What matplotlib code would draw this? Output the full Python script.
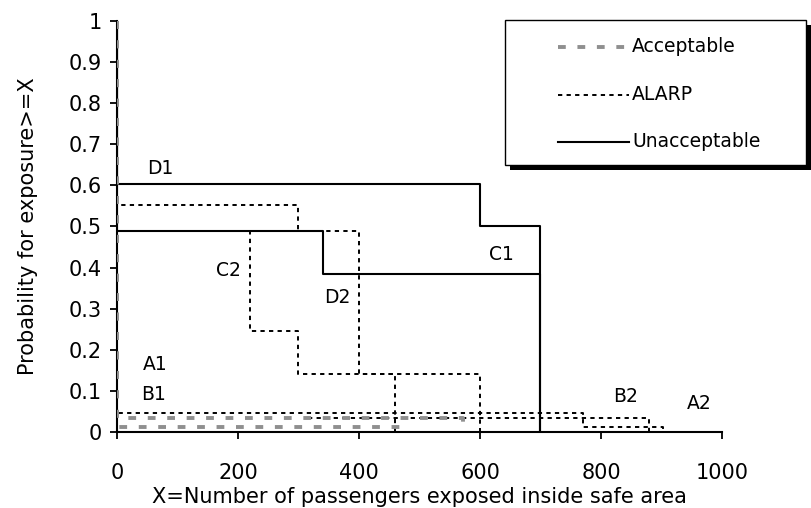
import matplotlib
matplotlib.use("Agg")
import matplotlib.pyplot as plt
from matplotlib.patches import Rectangle
from matplotlib.lines import Line2D

# ---- data (step curves: x breakpoints, probability level after each breakpoint) ----
D1_x = [0, 0, 600, 700]
D1_y = [1.0, 0.603, 0.50, 0.0]
C1_x = [0, 0, 340, 700]
C1_y = [1.0, 0.49, 0.385, 0.0]

D2_x = [0, 0, 300, 400, 600]
D2_y = [1.0, 0.553, 0.49, 0.141, 0.0]
C2_x = [0, 0, 220, 300, 460]
C2_y = [1.0, 0.49, 0.245, 0.141, 0.0]
B1_x = [0, 0, 770, 902]
B1_y = [1.0, 0.047, 0.013, 0.0]
B2_x = [315, 880]
B2_y = [0.035, 0.0]

A1_x = [0, 0, 572]
A1_y = [1.0, 0.035, 0.0]
A2_x = [0, 0, 478]
A2_y = [1.0, 0.013, 0.0]

labels = ["D1", "C1", "C2", "D2", "A1", "B1", "B2", "A2"]
label_x = [71, 636, 185, 364, 64, 60, 840, 963]
label_y = [0.641, 0.431, 0.394, 0.328, 0.165, 0.092, 0.086, 0.070]

xticks = [0, 200, 400, 600, 800, 1000]
yticks = [0, 0.1, 0.2, 0.3, 0.4, 0.5, 0.6, 0.7, 0.8, 0.9, 1]
yticklabels = ["0", "0.1", "0.2", "0.3", "0.4", "0.5", "0.6", "0.7", "0.8", "0.9", "1"]

legend_names = ["Acceptable", "ALARP", "Unacceptable"]

# ---- styles ----
plt.rcParams['font.family'] = ['DejaVu Sans']
W, H = 812, 508
fig = plt.figure(figsize=(W / 100, H / 100), dpi=100)
ax = fig.add_axes([117 / W, 76 / H, 605 / W, 411 / H])

solid = dict(color='black', lw=1.5, drawstyle='steps-post', zorder=3)
dotted = dict(color='black', lw=1.4, drawstyle='steps-post', dashes=(2.2, 2.2), zorder=4)
grey = dict(color='#8f8f8f', lw=2.8, drawstyle='steps-post', dashes=(2.0, 3.0), zorder=5)

ax.plot(D1_x, D1_y, **solid)
ax.plot(C1_x, C1_y, **solid)
ax.plot(D2_x, D2_y, **dotted)
ax.plot(C2_x, C2_y, **dotted)
ax.plot(B1_x, B1_y, **dotted)
ax.plot(B2_x, B2_y, **dotted)
ax.plot(A1_x, A1_y, **grey)
ax.plot(A2_x, A2_y, **grey)

for t, x, y in zip(labels, label_x, label_y):
    ax.text(x, y, t, ha='center', va='center', fontsize=13.5)

ax.set_xlim(0, 1000)
ax.set_ylim(0, 1)
ax.spines['top'].set_visible(False)
ax.spines['right'].set_visible(False)
ax.spines['left'].set_linewidth(1.5)
ax.spines['bottom'].set_linewidth(1.5)
ax.set_xticks(xticks)
ax.set_xticklabels([str(v) for v in xticks])
ax.set_yticks(yticks)
ax.set_yticklabels(yticklabels)
ax.tick_params(axis='both', direction='out', length=5, width=1.3, labelsize=15)
ax.tick_params(axis='x', pad=17)
ax.tick_params(axis='y', pad=6)
ax.set_xlabel("X=Number of passengers exposed inside safe area", fontsize=15, labelpad=3)
ax.set_ylabel("Probability for exposure>=X", fontsize=15, labelpad=22)
ax.patch.set_alpha(0)

# ---- legend box with shadow ----
def fx(px):
    return px / W

def fy(py):
    return 1 - py / H

lx0, lx1, ly0, ly1 = 505, 806, 20, 165
sh = Rectangle((fx(lx0 + 5), fy(ly1 + 5)), fx(lx1 - lx0), (ly1 - ly0) / H,
               transform=fig.transFigure, facecolor='black', edgecolor='none', zorder=10)
box = Rectangle((fx(lx0), fy(ly1)), fx(lx1 - lx0), (ly1 - ly0) / H,
                transform=fig.transFigure, facecolor='white', edgecolor='black', lw=1.0, zorder=11)
fig.add_artist(sh)
fig.add_artist(box)

styles = [grey, dotted, solid]
rows = [46.7, 95, 141.7]
for name, st, ry in zip(legend_names, styles, rows):
    kw = {k: v for k, v in st.items() if k not in ('drawstyle', 'zorder')}
    ln = Line2D([fx(558), fx(629)], [fy(ry), fy(ry)], transform=fig.transFigure, zorder=12, **kw)
    fig.add_artist(ln)
    fig.text(fx(632), fy(ry), name, ha='left', va='center', fontsize=13.5, zorder=12)

fig.savefig("out.png", dpi=100)
